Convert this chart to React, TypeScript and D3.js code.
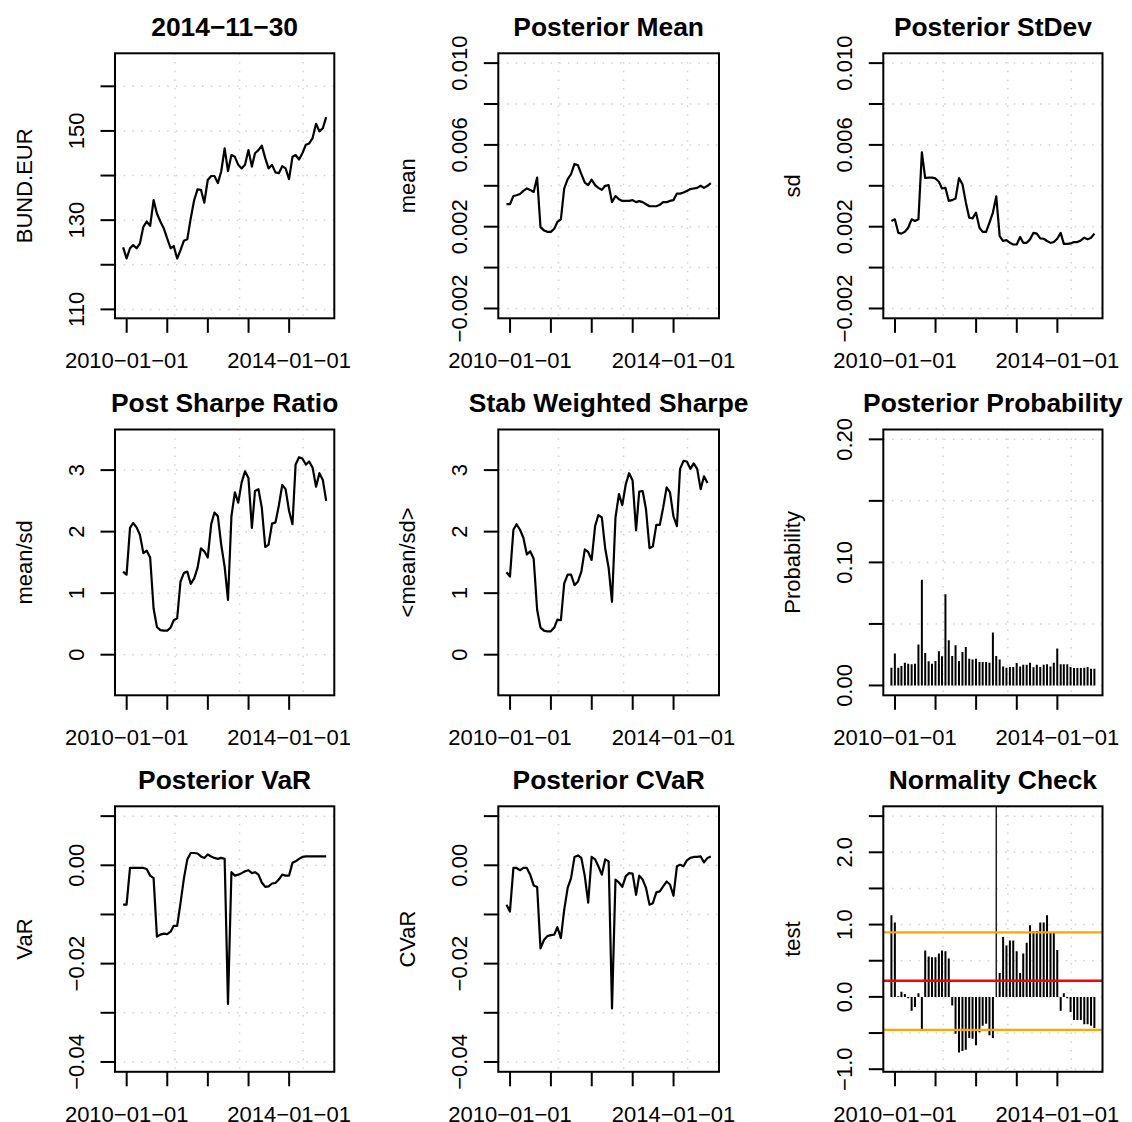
import React from "react";
import * as d3 from "d3";

const FONT = "'Liberation Sans', Arial, Helvetica, sans-serif";
const MINUS = "\u2212";

// month-end observation dates, 2009-11-30 .. 2014-11-30
const obsDates = d3.utcMonth
  .range(new Date(Date.UTC(2009, 11, 1)), new Date(Date.UTC(2014, 11, 2)))
  .map((d) => d3.utcDay.offset(d, -1));

const xTickDates = ["2010-01-01", "2011-01-01", "2012-01-01", "2013-01-01", "2014-01-01"];
const xLabelDates = ["2010-01-01", "2014-01-01"];
const gridDates = ["2011-03-10", "2012-10-12", "2014-05-06"];

const bundEur = [
  123.9, 121.4, 123.7, 124.4, 123.7, 124.8, 128.5, 129.7, 128.7, 134.5,
  131.5, 129.7, 128.2, 125.9, 123.7, 124.2, 121.4, 123.3, 125.4, 125.7,
  130.4, 134.5, 136.9, 136.8, 133.9, 139.0, 139.9, 139.9, 138.3, 140.9,
  146.1, 141.0, 144.6, 144.2, 142.4, 141.6, 142.4, 145.7, 142.0, 145.0,
  145.7, 146.7, 143.9, 141.6, 142.4, 140.7, 140.5, 142.1, 141.6, 139.2,
  144.2, 144.6, 143.6, 145.0, 146.9, 147.2, 148.4, 151.6, 149.9, 150.6,
  153.1,
];

const postMean = [
  0.0031, 0.0031, 0.0035, 0.00354, 0.0036, 0.00375, 0.00387, 0.0038, 0.0037, 0.0044,
  0.00198, 0.00182, 0.00175, 0.00175, 0.0019, 0.00223, 0.00236, 0.00387, 0.00433, 0.00457,
  0.00507, 0.005, 0.00457, 0.00416, 0.00403, 0.0043, 0.00403, 0.0039, 0.0038, 0.004,
  0.00403, 0.0032, 0.0035, 0.00334, 0.00326, 0.00326, 0.00326, 0.0033, 0.0032, 0.00325,
  0.0032, 0.0031, 0.003, 0.003, 0.003, 0.00307, 0.0032, 0.0032, 0.00326, 0.0033,
  0.00362, 0.00362, 0.00367, 0.00375, 0.00384, 0.00387, 0.0039, 0.004, 0.0039, 0.004,
  0.00413,
];

const postSd = [
  0.00228, 0.00236, 0.0017, 0.00166, 0.00175, 0.00195, 0.00236, 0.00228, 0.00236, 0.00564,
  0.00438, 0.0044, 0.0044, 0.00436, 0.0042, 0.00387, 0.0039, 0.00326, 0.0033, 0.00338,
  0.00438, 0.00408, 0.0032, 0.00244, 0.00241, 0.00269, 0.00195, 0.00175, 0.00175, 0.0022,
  0.00269, 0.00348, 0.00154, 0.0013, 0.00134, 0.00121, 0.00113, 0.00113, 0.0015, 0.00121,
  0.00121, 0.00138, 0.0017, 0.00166, 0.00143, 0.00141, 0.0013, 0.00121, 0.00125, 0.00141,
  0.0017, 0.00116, 0.00116, 0.00118, 0.00125, 0.00125, 0.00133, 0.00146, 0.00138, 0.00146,
  0.00166,
];

const postSharpe = [
  1.35, 1.3, 2.06, 2.14, 2.07, 1.95, 1.65, 1.69, 1.58, 0.75,
  0.45, 0.4, 0.39, 0.39, 0.44, 0.56, 0.59, 1.19, 1.33, 1.35,
  1.15, 1.24, 1.41, 1.73, 1.68, 1.58, 2.12, 2.31, 2.25, 1.79,
  1.43, 0.89, 2.25, 2.64, 2.47, 2.8, 2.98, 2.87, 2.06, 2.66,
  2.69, 2.39, 1.75, 1.79, 2.13, 2.15, 2.42, 2.76, 2.69, 2.34,
  2.12, 3.09, 3.21, 3.19, 3.09, 3.14, 3.04, 2.73, 2.95, 2.84,
  2.5,
];

const stabSharpe = [
  1.34, 1.27, 2.03, 2.12, 2.03, 1.9, 1.63, 1.68, 1.56, 0.73,
  0.44, 0.39, 0.38, 0.38, 0.44, 0.57, 0.56, 1.16, 1.3, 1.3,
  1.13, 1.19, 1.35, 1.71, 1.67, 1.54, 2.09, 2.27, 2.23, 1.73,
  1.41, 0.86, 2.23, 2.61, 2.43, 2.77, 2.95, 2.83, 2.02, 2.65,
  2.66, 2.36, 1.73, 1.76, 2.11, 2.11, 2.39, 2.72, 2.64, 2.25,
  2.09, 3.02, 3.15, 3.14, 3.02, 3.11, 3.02, 2.69, 2.9, 2.79,
];

const postProb = [
  0.0144, 0.0259, 0.0144, 0.0158, 0.0185, 0.0177, 0.0172, 0.0177, 0.0332, 0.0858,
  0.0264, 0.0196, 0.0177, 0.0199, 0.0278, 0.0237, 0.0741, 0.0368, 0.024, 0.0327,
  0.0199, 0.0272, 0.0313, 0.0218, 0.021, 0.0218, 0.0191, 0.0191, 0.0191, 0.0185,
  0.0431, 0.024, 0.021, 0.0155, 0.0144, 0.015, 0.015, 0.0183, 0.0155, 0.0169,
  0.0169, 0.0185, 0.0147, 0.0169, 0.015, 0.0169, 0.0172, 0.0155, 0.0185, 0.03,
  0.0172, 0.0172, 0.0172, 0.015, 0.0142, 0.0142, 0.0142, 0.0144, 0.015, 0.0136,
  0.0136,
];

const postVaR = [
  -0.008, -0.008, -0.00054, -0.00054, -0.00054, -0.00054, -0.00054, -0.00075, -0.0021, -0.0026,
  -0.0145, -0.0141, -0.0139, -0.014, -0.0135, -0.0123, -0.0123, -0.0077, -0.0026, 0.00116,
  0.0025, 0.0025, 0.0024, 0.0018, 0.0015, 0.0022, 0.0018, 0.0015, 0.0013, 0.0015,
  0.0013, -0.0282, -0.0014, -0.0021, -0.0019, -0.0016, -0.0012, -0.001, -0.0016, -0.0014,
  -0.0019, -0.0035, -0.0044, -0.0043, -0.0037, -0.0036, -0.0029, -0.0019, -0.0021, -0.0021,
  0.0005, 0.0008, 0.0013, 0.0017, 0.0018, 0.0018, 0.0018, 0.0018, 0.0018, 0.0018,
  0.0018,
];

const postCVaR = [
  -0.008, -0.0094, -0.00054, -0.00054, -0.001, -0.00054, -0.00054, -0.0019, -0.0041, -0.0044,
  -0.0169, -0.0152, -0.0144, -0.0142, -0.0141, -0.0126, -0.0148, -0.009, -0.0046, -0.0026,
  0.0017, 0.002, 0.0015, -0.0022, -0.0076, 0.0017, 0.0012, -0.0002, -0.0019, 0.0012,
  0.0008, -0.0291, -0.0029, -0.0035, -0.0044, -0.0022, -0.0016, -0.0017, -0.006, -0.0021,
  -0.0029, -0.0046, -0.008, -0.0077, -0.0055, -0.0053, -0.0043, -0.0033, -0.0039, -0.0062,
  -0.0002, 0.0001, -0.0002, 0.001, 0.0015, 0.0017, 0.0017, 0.0018, 0.0006, 0.0015,
  0.0018,
];

const normTest = [
  1.13, 1.03, 0.01, 0.07, 0.04, -0.02, -0.19, -0.14, 0.05, -0.46,
  0.64, 0.56, 0.55, 0.55, 0.6, 0.64, 0.63, 0.53, -0.12, -0.51,
  -0.77, -0.75, -0.73, -0.57, -0.58, -0.67, -0.49, -0.4, -0.37, -0.53,
  -0.57, 3.4, 0.33, 0.83, 0.71, 0.78, 0.78, 0.63, 0.33, 0.6,
  0.75, 0.99, 0.91, 0.91, 1.03, 1.03, 1.13, 0.89, 0.89, 0.65,
  -0.19, 0.05, -0.02, -0.21, -0.32, -0.32, -0.32, -0.38, -0.38, -0.4,
  -0.43,
];
const normCenter = 0.223;
const normBand = [-0.455, 0.893];

// plot-region frame of the 3x3 grid
const colLeft = [115, 498.3, 883.3];
const colRight = [334.3, 719, 1102.5];
const rowTop = [53.3, 429.5, 806.3];
const rowBottom = [318.3, 695.3, 1071.8];

const panels = [
  { title: "2014-11-30", ylab: "BUND.EUR", values: bundEur, type: "l", ylim: [110.2, 165.2],
    ticks: [110, 120, 130, 140, 150, 160], labels: [110, 130, 150], fmt: d3.format("d") },
  { title: "Posterior Mean", ylab: "mean", values: postMean, type: "l", ylim: [-0.002, 0.01],
    ticks: [-0.002, 0, 0.002, 0.004, 0.006, 0.008, 0.01], labels: [-0.002, 0.002, 0.006, 0.01], fmt: d3.format(".3f") },
  { title: "Posterior StDev", ylab: "sd", values: postSd, type: "l", ylim: [-0.002, 0.01],
    ticks: [-0.002, 0, 0.002, 0.004, 0.006, 0.008, 0.01], labels: [-0.002, 0.002, 0.006, 0.01], fmt: d3.format(".3f") },
  { title: "Post Sharpe Ratio", ylab: "mean/sd", values: postSharpe, type: "l", ylim: [-0.5, 3.5],
    ticks: [0, 1, 2, 3], labels: [0, 1, 2, 3], fmt: d3.format("d") },
  { title: "Stab Weighted Sharpe", ylab: "<mean/sd>", values: stabSharpe, type: "l", ylim: [-0.5, 3.5],
    ticks: [0, 1, 2, 3], labels: [0, 1, 2, 3], fmt: d3.format("d") },
  { title: "Posterior Probability", ylab: "Probability", values: postProb, type: "h", ylim: [0, 0.2],
    ticks: [0, 0.05, 0.1, 0.15, 0.2], labels: [0, 0.1, 0.2], fmt: d3.format(".2f") },
  { title: "Posterior VaR", ylab: "VaR", values: postVaR, type: "l", ylim: [-0.04, 0.01],
    ticks: [-0.04, -0.03, -0.02, -0.01, 0, 0.01], labels: [-0.04, -0.02, 0], fmt: d3.format(".2f") },
  { title: "Posterior CVaR", ylab: "CVaR", values: postCVaR, type: "l", ylim: [-0.04, 0.01],
    ticks: [-0.04, -0.03, -0.02, -0.01, 0, 0.01], labels: [-0.04, -0.02, 0], fmt: d3.format(".2f") },
  { title: "Normality Check", ylab: "test", values: normTest, type: "h", ylim: [-0.9, 2.5],
    ticks: [-1, -0.5, 0, 0.5, 1, 1.5, 2, 2.5], labels: [-1, 0, 1, 2], fmt: d3.format(".1f"),
    hlines: [{ v: normBand[1], col: "#FFA500" }, { v: normCenter, col: "#FF0000" }, { v: normBand[0], col: "#FFA500" }] },
];

const parseDate = d3.utcParse("%Y-%m-%d");
const fmtDate = (d) => d3.utcFormat("%Y-%m-%d")(d).replace(/-/g, MINUS);

const Panel = ({ p, idx }) => {
  const col = idx % 3;
  const row = Math.floor(idx / 3);
  const left = colLeft[col], right = colRight[col];
  const top = rowTop[row], bottom = rowBottom[row];

  const [t0, t1] = d3.extent(obsDates);
  const xpad = (+t1 - +t0) * 0.04;
  const x = d3.scaleUtc().domain([new Date(+t0 - xpad), new Date(+t1 + xpad)]).range([left, right]);
  const ypad = (p.ylim[1] - p.ylim[0]) * 0.04;
  const yDom = [p.ylim[0] - ypad, p.ylim[1] + ypad];
  const y = d3.scaleLinear().domain(yDom).range([bottom, top]);

  const clipId = `clip-${idx}`;
  const line = d3
    .line()
    .x((d, i) => x(obsDates[i]))
    .y((d) => y(d));

  const tickLen = 14.5;
  const cy = (top + bottom) / 2;

  return (
    <g>
      <defs>
        <clipPath id={clipId}>
          <rect x={left} y={top} width={right - left} height={bottom - top} />
        </clipPath>
      </defs>

      {/* grid */}
      <g stroke="#d3d3d3" strokeWidth={1.5} strokeDasharray="1.5 7.2">
        {p.ticks.map((t) => (
          <line key={"h" + t} x1={left} x2={right} y1={y(t)} y2={y(t)} />
        ))}
        {gridDates.map((g) => (
          <line key={g} x1={x(parseDate(g))} x2={x(parseDate(g))} y1={top} y2={bottom} />
        ))}
      </g>

      {/* data */}
      <g clipPath={`url(#${clipId})`}>
        {p.type === "l" && (
          <path d={line(p.values)} fill="none" stroke="#000" strokeWidth={2.2} strokeLinejoin="round" />
        )}
        {p.type === "h" &&
          p.values.map((v, i) => (
            <line
              key={i}
              x1={x(obsDates[i])}
              x2={x(obsDates[i])}
              y1={y(0)}
              y2={y(v)}
              stroke="#000"
              strokeWidth={v > yDom[1] ? 1.3 : 2}
            />
          ))}
        {(p.hlines || []).map((h, i) => (
          <line key={"r" + i} x1={left} x2={right} y1={y(h.v)} y2={y(h.v)} stroke={h.col} strokeWidth={2.3} />
        ))}
      </g>

      {/* box */}
      <rect x={left} y={top} width={right - left} height={bottom - top} fill="none" stroke="#000" strokeWidth={2} />

      {/* x axis */}
      {xTickDates.map((s) => {
        const px = x(parseDate(s));
        return <line key={s} x1={px} x2={px} y1={bottom} y2={bottom + tickLen} stroke="#000" strokeWidth={2} />;
      })}
      {xLabelDates.map((s) => (
        <text key={s} x={x(parseDate(s))} y={bottom + 50} textAnchor="middle" fontSize={22} fontFamily={FONT}>
          {fmtDate(parseDate(s))}
        </text>
      ))}

      {/* y axis */}
      {p.ticks.map((t) => (
        <line key={t} x1={left - tickLen} x2={left} y1={y(t)} y2={y(t)} stroke="#000" strokeWidth={2} />
      ))}
      {p.labels.map((t) => (
        <text
          key={t}
          transform={`translate(${left - 31},${y(t)}) rotate(-90)`}
          textAnchor="middle"
          fontSize={22}
          fontFamily={FONT}
        >
          {p.fmt(t)}
        </text>
      ))}
      <text
        transform={`translate(${left - 83},${cy}) rotate(-90)`}
        textAnchor="middle"
        fontSize={22}
        fontFamily={FONT}
      >
        {p.ylab}
      </text>

      {/* title */}
      <text x={(left + right) / 2} y={top - 17.5} textAnchor="middle" fontSize={26.4} fontWeight="bold" fontFamily={FONT}>
        {p.title.replace(/-/g, MINUS)}
      </text>
    </g>
  );
};

const App = () => {
  return (
    <svg
      width={1132}
      height={1122}
      style={{ position: "absolute", left: 0, top: 0, background: "#fff" }}
    >
      <rect width={1132} height={1122} fill="#fff" />
      {panels.map((p, i) => (
        <Panel key={p.title} p={p} idx={i} />
      ))}
    </svg>
  );
};

export default App;
